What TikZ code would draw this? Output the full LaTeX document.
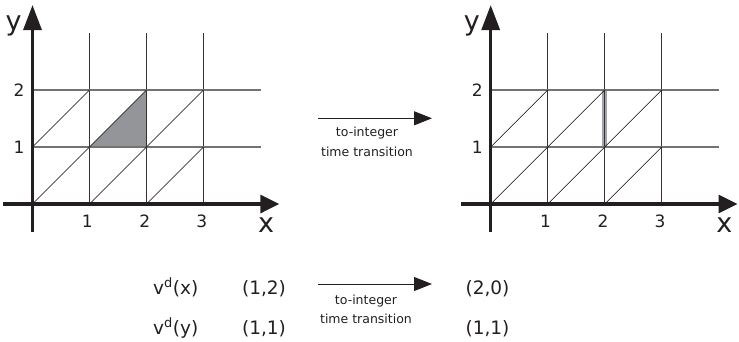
\documentclass[tikz,border=0pt]{standalone}
\usepackage{fontspec}
\setmainfont{DejaVu Sans}
\usetikzlibrary{arrows.meta}
\definecolor{axcol}{HTML}{231F20}
\definecolor{shadecol}{HTML}{939598}
\definecolor{barcol}{HTML}{A3A5A8}
\tikzset{
  axisline/.style={draw=axcol, line width=3.3pt},
  vgrid/.style={draw=black!80, line width=0.9pt},
  hgrid/.style={draw=black!55, line width=1.2pt},
  diag/.style={draw=black, line width=0.6pt},
  ticklbl/.style={font=\fontsize{17}{19}\selectfont, text=axcol, inner sep=0pt},
  axlbl/.style={font=\fontsize{27}{29}\selectfont, text=axcol, inner sep=0pt},
  small/.style={font=\fontsize{12.5}{14}\selectfont, text=axcol, inner sep=0pt},
  big/.style={font=\fontsize{18.5}{20}\selectfont, text=axcol, inner sep=0pt, anchor=base},
  trans/.style={draw=axcol, line width=1pt, -{Triangle[length=18pt,width=14pt]}},
  yarrow/.style={-{Triangle[length=25pt,width=18pt]}},
  xarrow/.style={-{Triangle[length=19pt,width=18pt]}},
}
\newcommand{\gridpic}[1]{%
  \draw[vgrid] (1,0) -- (1,3);
  \draw[vgrid] (2,0) -- (2,3);
  \draw[vgrid] (3,0) -- (3,3);
  \draw[hgrid] (0,1) -- (4,1);
  \draw[hgrid] (0,2) -- (4,2);
  \draw[diag] (0,1) -- (1,2);
  \draw[diag] (0,0) -- (2,2);
  \draw[diag] (1,0) -- (3,2);
  \draw[diag] (2,0) -- (3,1);
  \coordinate (#1yb) at (0,-0.49);
  \coordinate (#1yt) at (0,3.49);
  \coordinate (#1xl) at (-0.52,0);
  \coordinate (#1xr) at (4.33,0);
  \draw[axisline, yarrow] (#1yb) -- (#1yt);
  \draw[axisline, xarrow] (#1xl) -- (#1xr);
  \node[ticklbl] (#1t1) at (0.96,-0.307) {1};
  \node[ticklbl] (#1t2) at (1.97,-0.307) {2};
  \node[ticklbl] (#1t3) at (2.97,-0.307) {3};
  \node[ticklbl] (#1l1) at (-0.237,1) {1};
  \node[ticklbl] (#1l2) at (-0.237,2) {2};
  \node[axlbl] (#1ylab) at (-0.33,3.12) {y};
  \node[axlbl] (#1xlab) at (4.10,-0.37) {x};
}
\begin{document}
\begin{tikzpicture}[x=1pt, y=-1pt]
\useasboundingbox (0,0) rectangle (739,341);
% left diagram
\begin{scope}[shift={(32.5pt,-204pt)}, x=57pt, y=57pt]
  \fill[shadecol] (1,1) -- (2,2) -- (2,1) -- cycle;
  \gridpic{L}
\end{scope}
% right diagram
\begin{scope}[shift={(490.7pt,-204pt)}, x=57pt, y=57pt]
  \fill[barcol] (1.96,1) rectangle (2.04,2);
  \gridpic{R}
\end{scope}
% middle transition
\coordinate (m1) at (318,118.3);
\coordinate (m2) at (432,118.3);
\draw[trans] (m1) -- (m2);
\node[small] (m1a) at (367,133) {to-integer};
\node[small] (m1b) at (367,151.7) {time transition};
% bottom table
\node[big, anchor=base west] (vx) at (153,294) {v\textsuperscript{d}(x)};
\node[big, anchor=base west] (vy) at (153,334) {v\textsuperscript{d}(y)};
\node[big] (p12) at (264,294) {(1,2)};
\node[big] (p11) at (264,334) {(1,1)};
\node[big] (p20) at (487.5,294) {(2,0)};
\node[big] (q11) at (487.5,334) {(1,1)};
\coordinate (b1) at (318,284);
\coordinate (b2) at (432,284);
\draw[trans] (b1) -- (b2);
\node[small] (b1a) at (366,300.7) {to-integer};
\node[small] (b1b) at (366,319) {time transition};
\end{tikzpicture}
\end{document}
